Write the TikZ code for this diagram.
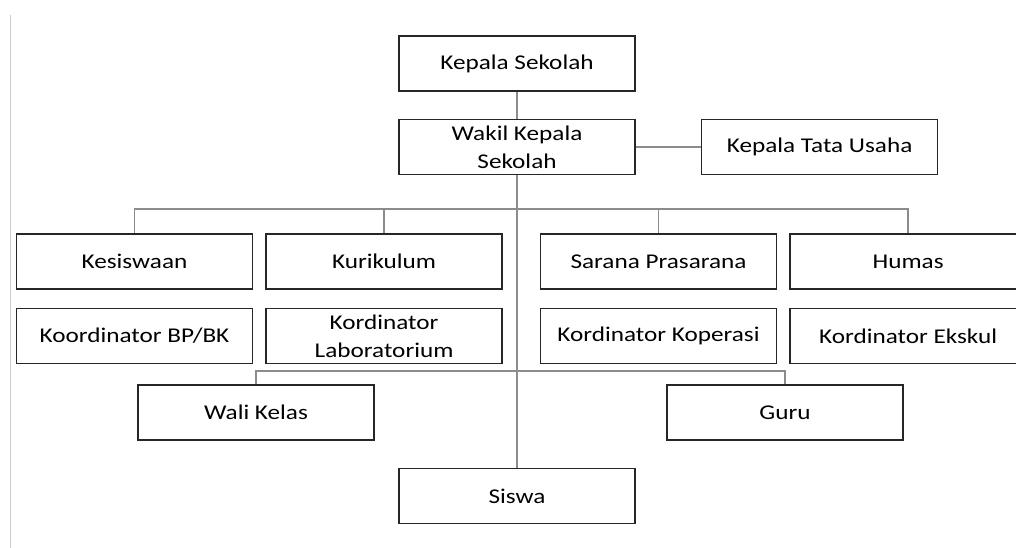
\documentclass[tikz,border=0pt]{standalone}
\usepackage{fontspec}
\setmainfont{Carlito}[FakeStretch=1.2]
\usetikzlibrary{positioning,calc}

\begin{document}
\begin{tikzpicture}[
    % Node styles
    unit/.style={rectangle, draw=black!85, line width=1.6pt, fill=white,
                 minimum width=236pt, minimum height=55pt, inner sep=0pt,
                 align=center, text=black, font=\fontsize{21}{28}\selectfont},
    conn/.style={black!45, line width=1.3pt},
    frame/.style={black!20, line width=1pt}
]

\useasboundingbox (0,0) rectangle (1016pt,-548pt);
\draw[frame] (10pt,-15pt) -- (10pt,-548pt);

% 1. Top
\node[unit] (kepala) at (517pt,-63.5pt) {Kepala Sekolah};
\node[unit, below=27pt of kepala] (wakil) {Wakil Kepala\\Sekolah};
\node[unit, right=65pt of wakil] (tatausaha) {Kepala Tata Usaha};

% 2. Wakil row
\node[unit] (kesiswaan) at (134.5pt,-261.5pt) {Kesiswaan};
\node[unit, right=12pt of kesiswaan] (kurikulum) {Kurikulum};
\node[unit] (sarana) at (658.5pt,-261.5pt) {Sarana Prasarana};
\node[unit, right=12pt of sarana] (humas) {Humas};

% 3. Koordinator row
\node[unit, below=18pt of kesiswaan] (bpbk) {Koordinator BP/BK};
\node[unit, below=18pt of kurikulum] (lab) {Kordinator\\Laboratorium};
\node[unit, below=18pt of sarana] (koperasi) {Kordinator Koperasi};
\node[unit, below=18pt of humas] (ekskul) {Kordinator Ekskul};

% 4. Wali kelas and guru
\node[unit] (walikelas) at (256pt,-412.5pt) {Wali Kelas};
\node[unit] (guru) at (785pt,-412.5pt) {Guru};

% 5. Siswa
\node[unit] (siswa) at (517pt,-496pt) {Siswa};

% Connectors
\coordinate (bus1) at (517pt,-209pt);
\coordinate (bus2) at (517pt,-371pt);

\draw[conn] (kepala) -- (wakil);
\draw[conn] (wakil) -- (tatausaha);
\draw[conn] (wakil) -- (siswa);

\draw[conn] (kesiswaan.north) |- (bus1) -| (humas.north);
\draw[conn] (kurikulum.north) -- (kurikulum.north |- bus1);
\draw[conn] (sarana.north) -- (sarana.north |- bus1);

\draw[conn] (walikelas.north) |- (bus2) -| (guru.north);

\end{tikzpicture}
\end{document}
